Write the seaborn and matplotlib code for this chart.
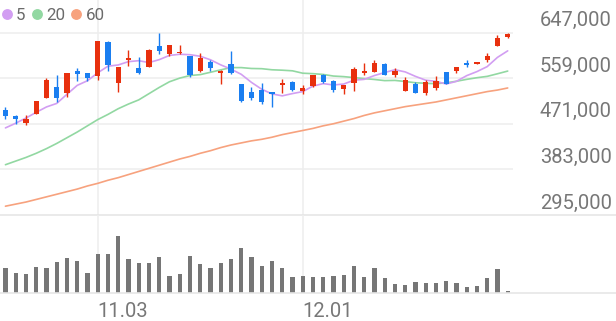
import numpy as np
import pandas as pd
import matplotlib
matplotlib.use("Agg")
import matplotlib.pyplot as plt
import seaborn as sns
from matplotlib.lines import Line2D

# ---------------- data ----------------
opens = [497, 486, 473, 489, 521, 542, 531, 573, 569, 563,
         628, 550, 594, 578, 581, 620, 606, 607, 602, 573,
         591, 568, 586, 548, 533, 537, 533, 546, 552, 535,
         544, 565, 554, 538, 549, 569, 571, 586, 565, 535,
         547, 530, 539, 570, 573, 588, 587, 594, 621, 639]
highs = [503, 487, 487, 515, 559, 565, 569, 579, 569, 631,
         631, 581, 613, 599, 615, 647, 623, 622, 602, 608,
         594, 575, 612, 548, 541, 550, 533, 557, 554, 546,
         565, 567, 555, 546, 581, 588, 594, 589, 578, 562,
         551, 555, 563, 571, 581, 594, 591, 607, 642, 647]
lows = [480, 470, 468, 489, 520, 512, 523, 553, 553, 555,
        573, 533, 582, 566, 580, 606, 602, 606, 562, 571,
        573, 548, 567, 512, 517, 509, 503, 530, 535, 528,
        542, 549, 533, 528, 535, 565, 570, 565, 561, 534,
        530, 526, 537, 547, 568, 581, 586, 591, 620, 636]
closes = [486, 481, 480, 515, 555, 520, 569, 566, 560, 631,
          584, 581, 598, 569, 613, 612, 622, 609, 565, 598,
          578, 573, 568, 515, 520, 512, 528, 549, 537, 539,
          565, 552, 536, 546, 576, 573, 589, 565, 573, 555,
          530, 552, 554, 547, 581, 585, 591, 602, 636, 644]
ma5 = [463, 472, 482, 493, 503.4, 510.2, 527.8, 545, 554, 569.2,
       582, 584.4, 590.8, 592.6, 589, 594.6, 602.8, 605, 604.2, 601.2,
       594.4, 584.6, 576.4, 566.4, 550.8, 537.6, 528.6, 524.8, 529.2, 533,
       543.6, 548.4, 545.8, 547.6, 555, 556.6, 564, 569.8, 575.2, 571,
       562.4, 555, 552.8, 547.6, 552.8, 563.8, 571.6, 581.2, 599, 611.6]
ma20 = [392, 399, 406, 414, 423, 433, 444, 455, 467, 479,
        489, 500, 509, 517, 529, 541, 552, 559, 564, 565.7,
        570.3, 574.9, 579.3, 579.3, 577.6, 577.2, 575.1, 574.3, 573.1, 568.5,
        567.6, 566.1, 563, 561.9, 560, 558.1, 556.4, 554.2, 554.6, 552.5,
        550.1, 549, 548.3, 549.9, 553, 556.6, 559.8, 562.4, 567.4, 572.6]
ma60 = [312, 316, 320, 325, 330, 335, 340, 345, 351, 356,
        362, 367, 373, 379, 385, 391, 397, 403, 408, 414,
        419, 425, 430, 434, 438, 441, 445, 450, 454, 458,
        462, 467, 471, 476, 481, 487, 492, 496, 500, 504,
        507, 510, 513, 517, 521, 525, 529, 533, 536, 540]
volumes = [250, 200, 190, 266, 256, 316, 356, 323, 200, 390,
           390, 573, 340, 300, 300, 366, 176, 196, 376, 296,
           250, 300, 340, 450, 360, 273, 323, 250, 166, 176,
           166, 166, 176, 183, 276, 160, 250, 150, 93, 83,
           116, 100, 106, 123, 100, 66, 76, 156, 240, 26]
price_ticks = [295000, 383000, 471000, 559000, 647000]
date_tick_pos = [9, 29]
date_tick_labels = ["11.03", "12.01"]
ma_labels = ["5", "20", "60"]

# ---------------- styling ----------------
sns.set_theme(style="white")
plt.rcParams["font.family"] = ["Roboto", "DejaVu Sans"]

RED = "#e8300e"
BLUE = "#1a7ef0"
MA_COLORS = ["#d29ef2", "#92d8a2", "#f7a27e"]
GRID = "#eeeeee"
TXT = "#777777"

W, H = 616, 321
fig = plt.figure(figsize=(W / 100, H / 100), dpi=100)
fig.patch.set_facecolor("white")

n = len(closes)
idx = np.arange(n)
o = np.array(opens) * 1000.0
h = np.array(highs) * 1000.0
l = np.array(lows) * 1000.0
c = np.array(closes) * 1000.0

x0px, dx = 5.45, 10.25
xl = (-x0px / dx, (W - x0px) / dx)
grid_end = (513 - x0px) / dx

price_top_val = 647000 + 32.5 / 45.625 * 88000
ax = fig.add_axes([0, (H - 215) / H, 1, 215 / H])
ax.set_facecolor("none")
ax.set_xlim(xl)
ax.set_ylim(295000, price_top_val)

# grid
ax.hlines(price_ticks[1:], xl[0], grid_end, colors=GRID, lw=1.1, zorder=0)
for t in date_tick_pos:
    ax.axvline(t, color=GRID, lw=1.1, zorder=0)

# moving averages
df = pd.DataFrame({"idx": idx, "ma5": np.array(ma5) * 1000,
                   "ma20": np.array(ma20) * 1000, "ma60": np.array(ma60) * 1000})
for col, colr in zip(["ma60", "ma20", "ma5"], MA_COLORS[::-1]):
    sns.lineplot(data=df, x="idx", y=col, ax=ax, color=colr, lw=1.2, zorder=2)

# candles
up = c >= o
cols = np.where(up, RED, BLUE)
ax.vlines(idx, l, h, colors=cols, lw=1.0, zorder=3)
body_bottom = np.minimum(o, c)
body_h = np.maximum(np.abs(c - o), 2600)
ax.bar(idx, body_h, bottom=body_bottom, width=0.5, color=cols, lw=0, zorder=4)

ax.set_xlabel("")
ax.set_ylabel("")
ax.set_xticks([])
ax.set_yticks([])
for s in ["top", "left", "right"]:
    ax.spines[s].set_visible(False)
ax.spines["bottom"].set_color("#e6e6e6")
ax.spines["bottom"].set_linewidth(1.2)

for v in price_ticks:
    ax.annotate(f"{v:,}", xy=(1, v), xycoords=("axes fraction", "data"),
                xytext=(-4, 6.5), textcoords="offset pixels",
                ha="right", va="baseline", fontsize=14.5, color=TXT,
                annotation_clip=False)

# legend
handles = [Line2D([], [], marker="o", ls="", color=cc, markersize=6.8) for cc in MA_COLORS]
leg = ax.legend(handles, ma_labels, loc="upper left", bbox_to_anchor=(0, 1 - 5.5 / 215),
                ncol=3, frameon=False, fontsize=12.2, handlelength=0.55,
                handletextpad=0.25, columnspacing=0.4, borderpad=0.15,
                borderaxespad=0)
for t in leg.get_texts():
    t.set_color("#6b6b6b")

# volume
vax = fig.add_axes([0, (H - 293.3) / H, 1, (293.3 - 215) / H])
vax.set_facecolor("none")
vol = np.array(volumes) * 1000.0
vax.set_xlim(xl)
vax.set_ylim(0, vol.max() * 78.3 / 57.3)
for t in date_tick_pos:
    vax.axvline(t, color=GRID, lw=1.1, zorder=0)
vax.bar(idx, vol, width=0.42, color="#767676", lw=0, zorder=2)
vax.set_yticks([])
vax.set_xticks(date_tick_pos)
vax.set_xticklabels(date_tick_labels, ha="left")
vax.tick_params(axis="x", length=0, pad=6, labelsize=14.5, labelcolor=TXT)
for s in ["top", "left", "right"]:
    vax.spines[s].set_visible(False)
vax.spines["bottom"].set_color("#e6e6e6")
vax.spines["bottom"].set_linewidth(1.2)

fig.savefig("out.png", dpi=100, facecolor="white")
